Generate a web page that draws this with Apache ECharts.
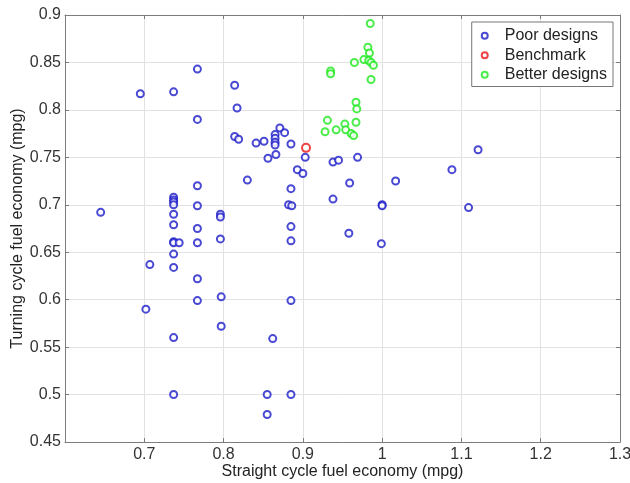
<!DOCTYPE html>
<html>
<head>
<meta charset="utf-8">
<script src="https://cdn.jsdelivr.net/npm/echarts@6/dist/echarts.min.js"></script>
<style>
  html, body { margin: 0; padding: 0; background: #fff; }
  #main { width: 630px; height: 483px; }
</style>
</head>
<body>
<div id="main"></div>
<script>
// straight cycle (x) and turning cycle (y) fuel economy, mpg
var poorX = [0.645, 0.695, 0.737, 0.767, 0.767, 0.814, 0.817, 0.814, 0.819, 0.841,
             0.851, 0.871, 0.877, 0.865, 0.865, 0.865, 0.865, 0.885, 0.856, 0.866,
             0.903, 0.893, 0.900, 0.830, 0.938, 0.945, 0.969, 0.885, 0.959, 1.017,
             1.088, 1.121, 1.109, 0.938, 1.000, 1.000, 0.882, 0.886, 0.885, 0.958,
             0.885, 0.999, 0.885, 0.862, 0.855, 0.885, 0.855,
             0.767, 0.737, 0.737, 0.737, 0.737, 0.767, 0.737, 0.796, 0.796, 0.737,
             0.767, 0.737, 0.737, 0.744, 0.767, 0.796, 0.737, 0.707, 0.737, 0.767,
             0.767, 0.797, 0.702, 0.797, 0.737, 0.737];
var poorY = [0.692, 0.817, 0.819, 0.843, 0.790, 0.826, 0.802, 0.772, 0.769, 0.765,
             0.767, 0.781, 0.776, 0.774, 0.770, 0.766, 0.763, 0.764, 0.749, 0.753,
             0.750, 0.737, 0.733, 0.726, 0.745, 0.747, 0.750, 0.717, 0.723, 0.725,
             0.737, 0.758, 0.697, 0.706, 0.700, 0.699, 0.700, 0.699, 0.677, 0.670,
             0.662, 0.659, 0.599, 0.559, 0.500, 0.500, 0.479,
             0.720, 0.708, 0.705, 0.703, 0.700, 0.699, 0.690, 0.690, 0.687, 0.679,
             0.675, 0.661, 0.660, 0.660, 0.660, 0.664, 0.648, 0.637, 0.634, 0.622,
             0.599, 0.603, 0.590, 0.572, 0.560, 0.500];

var benchX = [0.904];
var benchY = [0.760];

var betterX = [0.985, 0.982, 0.984, 0.965, 0.977, 0.983, 0.986, 0.989, 0.935, 0.935,
               0.986, 0.967, 0.968, 0.931, 0.928, 0.942, 0.953, 0.967, 0.954, 0.961, 0.964];
var betterY = [0.891, 0.866, 0.860, 0.850, 0.853, 0.852, 0.850, 0.847, 0.841, 0.838,
               0.832, 0.808, 0.801, 0.789, 0.777, 0.779, 0.785, 0.787, 0.779, 0.775, 0.773];

function pairs(xs, ys) {
    return xs.map(function (x, i) { return [x, ys[i]]; });
}

var font = 'Liberation Sans, Arial, sans-serif';
var boxColor = '#7c7c7c';

var myChart = echarts.init(document.getElementById('main'));

var xCommon = {
    type: 'value', min: 0.6, max: 1.3, interval: 0.1,
    axisLine: { show: true, onZero: false, lineStyle: { color: boxColor, width: 1 } },
    axisTick: { show: true, inside: true, length: 4, lineStyle: { color: boxColor } }
};
var yCommon = {
    type: 'value', min: 0.45, max: 0.9, interval: 0.05,
    axisLine: { show: true, onZero: false, lineStyle: { color: boxColor, width: 1 } },
    axisTick: { show: true, inside: true, length: 4, lineStyle: { color: boxColor } }
};

var option = {
    animation: false,
    backgroundColor: '#fff',
    grid: { left: 65, right: 10, top: 15, bottom: 41, containLabel: false, outerBoundsMode: 'none' },
    legend: {
        orient: 'vertical',
        right: 17,
        top: 22,
        padding: [4, 6, 2, 9],
        itemGap: 0,
        itemWidth: 30,
        itemHeight: 6,
        borderColor: '#777',
        borderWidth: 1,
        backgroundColor: '#fff',
        itemStyle: { borderWidth: 2.5 },
        textStyle: { fontFamily: font, fontSize: 16, color: '#222', lineHeight: 19.5 },
        data: ['Poor designs', 'Benchmark', 'Better designs']
    },
    xAxis: [
        Object.assign({}, xCommon, {
            position: 'bottom',
            name: 'Straight cycle fuel economy (mpg)',
            nameLocation: 'middle',
            nameGap: 22,
            nameMoveOverlap: false,
            nameTextStyle: { fontFamily: font, fontSize: 16, color: '#222' },
            axisLabel: {
                fontFamily: font, fontSize: 16, color: '#333', margin: 5,
                formatter: function (v) { return v <= 0.6001 ? '' : String(+v.toFixed(2)); }
            },
            splitLine: { show: true, lineStyle: { color: '#e2e2e2', width: 1 } }
        }),
        Object.assign({}, xCommon, {
            position: 'top',
            axisLabel: { show: false },
            splitLine: { show: false }
        })
    ],
    yAxis: [
        Object.assign({}, yCommon, {
            position: 'left',
            name: 'Turning cycle fuel economy (mpg)',
            nameLocation: 'middle',
            nameGap: 39,
            nameMoveOverlap: false,
            nameTextStyle: { fontFamily: font, fontSize: 16, color: '#222' },
            axisLabel: {
                fontFamily: font, fontSize: 16, color: '#333', margin: 4,
                formatter: function (v) { return String(+v.toFixed(2)); }
            },
            splitLine: { show: true, lineStyle: { color: '#e2e2e2', width: 1 } }
        }),
        Object.assign({}, yCommon, {
            position: 'right',
            axisLabel: { show: false },
            splitLine: { show: false }
        })
    ],
    series: [
        {
            name: 'Poor designs', type: 'scatter', xAxisIndex: 0, yAxisIndex: 0,
            symbol: 'emptyCircle', symbolSize: 7,
            itemStyle: { color: '#1c1cc8', borderWidth: 1.7 },
            data: pairs(poorX, poorY)
        },
        {
            name: 'Benchmark', type: 'scatter', xAxisIndex: 0, yAxisIndex: 0,
            symbol: 'emptyCircle', symbolSize: 8,
            itemStyle: { color: '#e81414', borderWidth: 3.5 },
            data: pairs(benchX, benchY)
        },
        {
            name: 'Better designs', type: 'scatter', xAxisIndex: 0, yAxisIndex: 0,
            symbol: 'emptyCircle', symbolSize: 7,
            itemStyle: { color: '#1ee81e', borderWidth: 2.4 },
            data: pairs(betterX, betterY)
        }
    ]
};

myChart.setOption(option);
</script>
</body>
</html>
